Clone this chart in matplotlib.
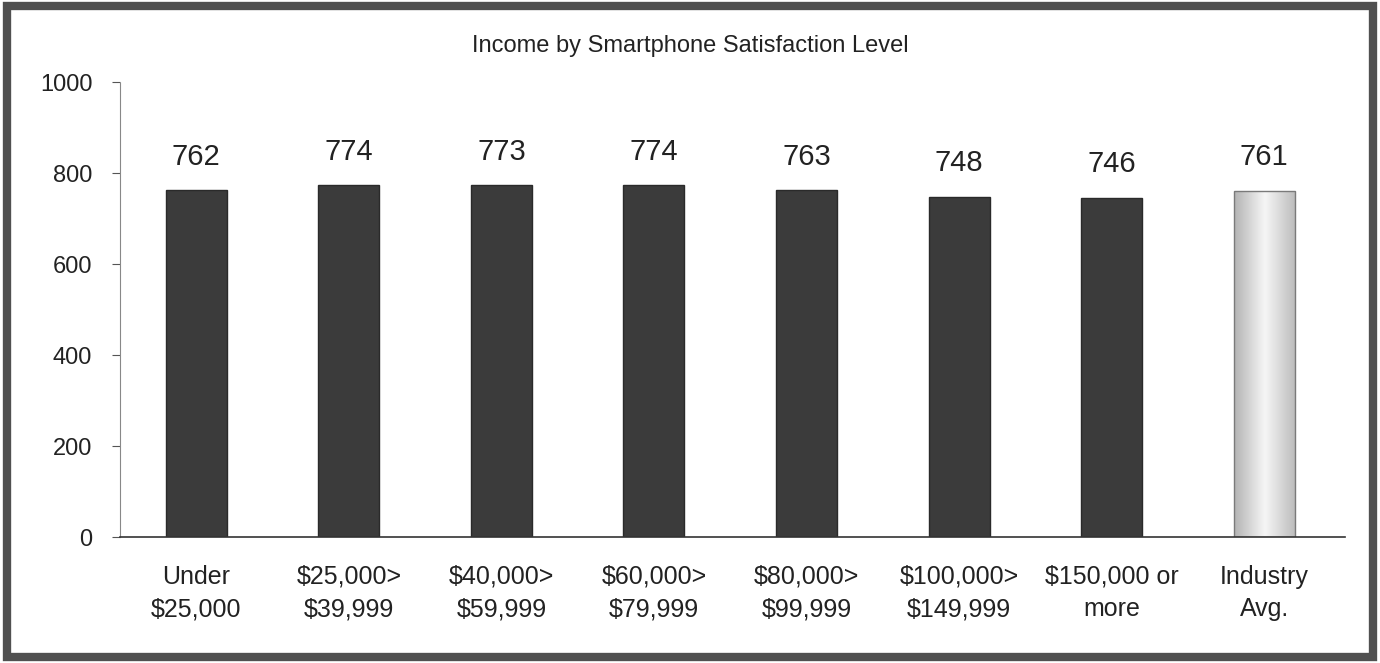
import numpy as np
import matplotlib.pyplot as plt
from matplotlib.patches import Rectangle
from matplotlib.colors import LinearSegmentedColormap

# Satisfaction scores by income bracket
income_labels = ['Under\n$25,000', '$25,000>\n$39,999', '$40,000>\n$59,999',
                 '$60,000>\n$79,999', '$80,000>\n$99,999', '$100,000>\n$149,999',
                 '$150,000 or\nmore', 'Industry\nAvg.']
scores = [762, 774, 773, 774, 763, 748, 746, 761]

plt.rcParams['font.family'] = ['Liberation Sans', 'DejaVu Sans']

fig = plt.figure(figsize=(13.8, 6.63), dpi=100)
ax = fig.add_axes([0.087, 0.19, 0.8876, 0.686])

colors = ['#3b3b3b'] * (len(scores) - 1) + ['none']
edges = ['#2a2a2a'] * (len(scores) - 1) + ['#7a7a7a']
x = range(len(scores))
bars = ax.bar(x, scores, width=0.4, color=colors, edgecolor=edges, linewidth=1.0, zorder=2)

# industry average bar gets a light shaded fill, darker toward the sides
avg = bars[-1]
shade = LinearSegmentedColormap.from_list('shade', ['#b4b4b4', '#f6f6f6', '#bcbcbc'])
grad = np.linspace(0, 1, 64).reshape(1, -1)
img = ax.imshow(grad, cmap=shade, aspect='auto', zorder=1.5,
                extent=(avg.get_x(), avg.get_x() + avg.get_width(), 0, avg.get_height()))
img.set_clip_path(avg)

for rect, val in zip(bars, scores):
    ax.annotate(f'{val}', (rect.get_x() + rect.get_width() / 2, val),
                xytext=(0, 14), textcoords='offset points', ha='center', va='bottom',
                fontsize=21, color='#222222')

ax.set_ylim(0, 1000)
ax.set_xlim(-0.5, 7.53)
ax.set_yticks([0, 200, 400, 600, 800, 1000])
ax.tick_params(axis='y', labelsize=17, length=6, color='#555555', labelcolor='#222222', pad=14)
ax.set_xticks(list(x))
ax.set_xticklabels(income_labels, fontsize=18, color='#222222', linespacing=1.45)
ax.tick_params(axis='x', length=0, pad=20)

for side in ['top', 'right']:
    ax.spines[side].set_visible(False)
ax.spines['left'].set_color('#888888')
ax.spines['left'].set_linestyle((0, (1, 1)))
ax.spines['left'].set_linewidth(0.8)
ax.spines['bottom'].set_color('#333333')
ax.spines['bottom'].set_linewidth(1.2)

fig.text(0.5, 0.93, 'Income by Smartphone Satisfaction Level', ha='center', va='center',
         fontsize=17, color='#222222')

# Heavy frame around the whole figure
fig.patches.append(Rectangle((0.005, 0.009), 0.99, 0.982, transform=fig.transFigure,
                             fill=False, edgecolor='#505050', linewidth=6))

fig.savefig('out.png', dpi=100)
